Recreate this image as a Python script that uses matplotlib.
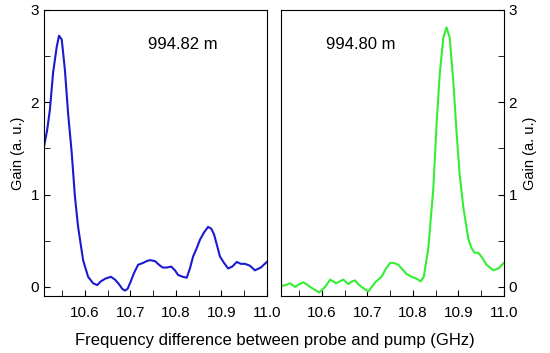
import numpy as np
import matplotlib.pyplot as plt
from matplotlib.ticker import MultipleLocator, FormatStrFormatter

plt.rcParams['font.family'] = ['Liberation Sans', 'DejaVu Sans']

# Blue curve (994.82 m)
freq_a = [10.51, 10.517, 10.523, 10.53, 10.538, 10.543, 10.549, 10.556, 10.563, 10.571,
          10.578, 10.585, 10.596, 10.607, 10.618, 10.627, 10.635, 10.645, 10.657, 10.666,
          10.675, 10.682, 10.688, 10.694, 10.7, 10.708, 10.717, 10.728, 10.736, 10.743,
          10.754, 10.763, 10.771, 10.78, 10.79, 10.798, 10.805, 10.815, 10.824, 10.831,
          10.838, 10.846, 10.853, 10.862, 10.871, 10.878, 10.884, 10.89, 10.897, 10.906,
          10.915, 10.924, 10.934, 10.943, 10.952, 10.963, 10.974, 10.987, 11.0]
gain_a = [1.52, 1.70, 1.92, 2.32, 2.60, 2.72, 2.68, 2.35, 1.88, 1.45,
          0.98, 0.65, 0.29, 0.11, 0.04, 0.02, 0.06, 0.09, 0.11, 0.08,
          0.03, -0.02, -0.04, -0.02, 0.05, 0.15, 0.24, 0.26, 0.28, 0.29,
          0.28, 0.24, 0.21, 0.21, 0.22, 0.18, 0.13, 0.11, 0.1, 0.2,
          0.33, 0.42, 0.51, 0.59, 0.65, 0.63, 0.57, 0.46, 0.33, 0.26,
          0.2, 0.22, 0.27, 0.25, 0.25, 0.23, 0.18, 0.21, 0.27]

# Green curve (994.80 m)
freq_b = [10.51, 10.52, 10.53, 10.541, 10.55, 10.559, 10.566, 10.574, 10.584, 10.594,
          10.607, 10.618, 10.631, 10.647, 10.658, 10.666, 10.673, 10.68, 10.687, 10.702,
          10.717, 10.731, 10.741, 10.75, 10.758, 10.768, 10.777, 10.786, 10.797, 10.808,
          10.817, 10.824, 10.834, 10.845, 10.852, 10.859, 10.867, 10.874, 10.881, 10.889,
          10.896, 10.903, 10.911, 10.922, 10.929, 10.936, 10.944, 10.952, 10.962, 10.977,
          10.988, 11.0]
gain_b = [0.01, 0.02, 0.04, 0.0, 0.03, 0.05, 0.03, 0.0, -0.03, -0.06,
          0.0, 0.08, 0.04, 0.08, 0.03, 0.06, 0.07, 0.03, 0.0, -0.05,
          0.05, 0.11, 0.2, 0.26, 0.26, 0.24, 0.19, 0.14, 0.11, 0.09,
          0.06, 0.11, 0.42, 1.07, 1.75, 2.3, 2.7, 2.81, 2.7, 2.22,
          1.68, 1.21, 0.86, 0.52, 0.42, 0.37, 0.37, 0.32, 0.24, 0.18,
          0.2, 0.26]

labels = ['994.82 m', '994.80 m']
label_x = [10.815, 10.686]

fig = plt.figure(figsize=(5.5, 3.53), dpi=100)
ax1 = fig.add_axes([0.08, 0.161, 0.405, 0.811])
ax2 = fig.add_axes([0.511, 0.161, 0.405, 0.811])

ax1.plot(freq_a, gain_a, color='#1a1ad0', lw=1.5)
ax2.plot(freq_b, gain_b, color='#33ee33', lw=1.5)

for ax, lab, lx in zip([ax1, ax2], labels, label_x):
    ax.set_xlim(10.51, 11.0)
    ax.set_ylim(-0.1, 3.0)
    ax.xaxis.set_major_locator(MultipleLocator(0.1))
    ax.xaxis.set_minor_locator(MultipleLocator(0.05))
    ax.xaxis.set_major_formatter(FormatStrFormatter('%.1f'))
    ax.yaxis.set_major_locator(MultipleLocator(1))
    ax.yaxis.set_minor_locator(MultipleLocator(0.5))
    ax.tick_params(which='both', direction='in', labelsize=11, length=4)
    ax.tick_params(axis='x', pad=7)
    ax.text(lx, 2.62, lab, ha='center', va='center', fontsize=12)

ax1.set_ylabel('Gain (a. u.)', fontsize=10.5)
ax2.yaxis.tick_right()
ax2.yaxis.set_label_position('right')
ax2.set_ylabel('Gain (a. u.)', fontsize=10.5)

fig.text(0.5, 0.035, 'Frequency difference between probe and pump (GHz)',
         ha='center', va='center', fontsize=12)

plt.savefig('out.png')
